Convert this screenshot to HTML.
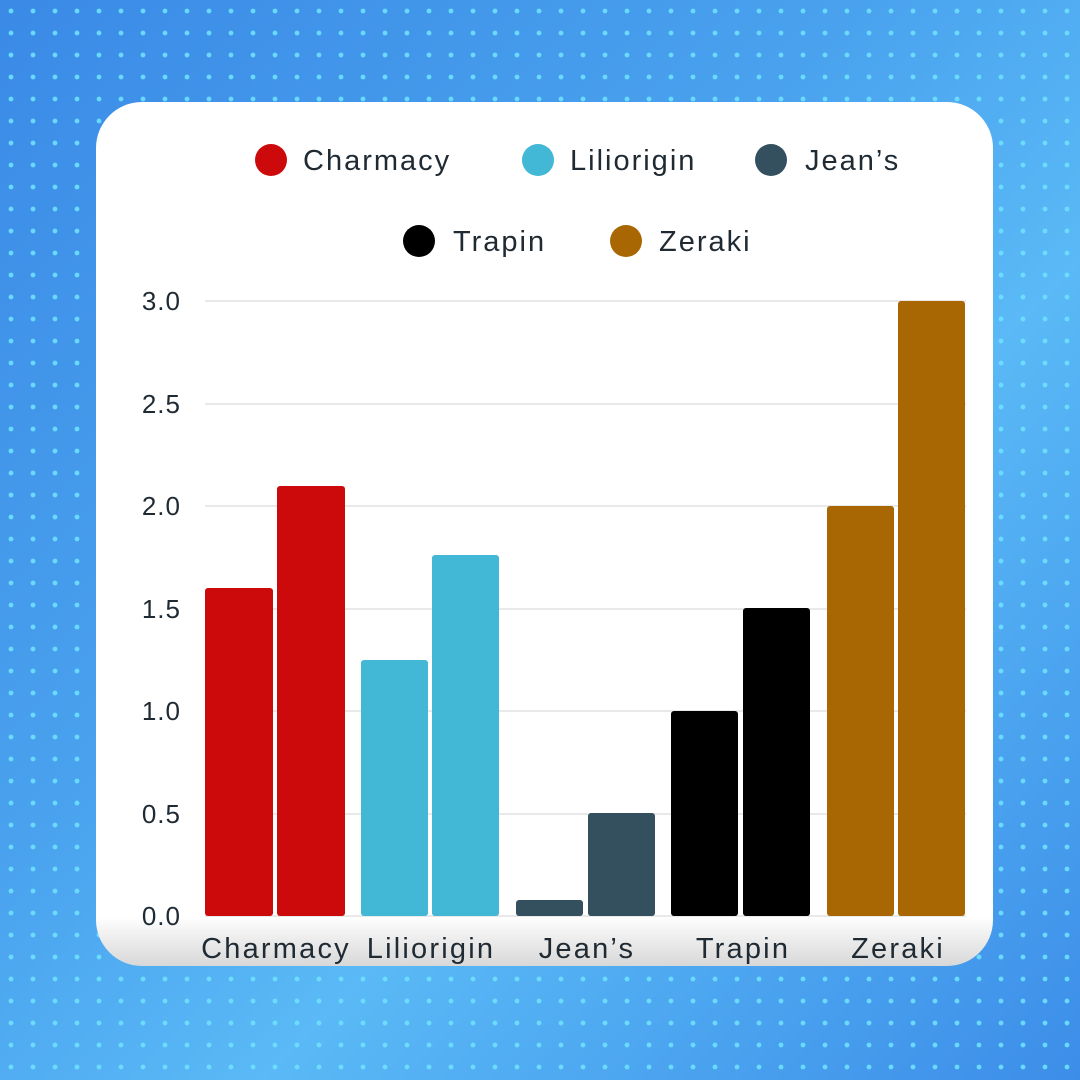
<!DOCTYPE html>
<html><head><style>
html,body{margin:0;padding:0}
body{width:1080px;height:1080px;position:relative;overflow:hidden;
background:
radial-gradient(circle, rgba(110,225,255,0.9) 2px, transparent 2.8px) 0 0/22px 22px,
linear-gradient(135deg,#3a8ae6 0%,#4aa2ee 40%,#5ab9f6 62%,#3c8de8 100%);
font-family:"Liberation Sans",sans-serif;}
.card{position:absolute;left:96px;top:102px;width:897px;height:864px;border-radius:46px;
background:linear-gradient(to bottom,#fff 0,#fff 815px,#f2f2f2 830px,#d8d8d8 864px);overflow:hidden}
svg{position:absolute;left:0;top:0}
</style></head><body>
<div class="card"></div>
<svg width="1080" height="1080" font-family="Liberation Sans, sans-serif">
<g fill="#1f2a33" font-size="29" letter-spacing="2">
<circle cx="271" cy="160" r="16" fill="#cc0a0c"/><text x="303" y="170">Charmacy</text>
<circle cx="538" cy="160" r="16" fill="#42b7d6"/><text x="570" y="170">Liliorigin</text>
<circle cx="771" cy="160" r="16" fill="#34505f"/><text x="805" y="170">Jean’s</text>
<circle cx="419" cy="241" r="16" fill="#000"/><text x="453" y="251">Trapin</text>
<circle cx="626" cy="241" r="16" fill="#a86703"/><text x="659" y="251">Zeraki</text>
</g>
<g stroke="#e2e2e2" stroke-width="1.5">
<line x1="205" x2="966" y1="301" y2="301"/><line x1="205" x2="966" y1="404" y2="404"/>
<line x1="205" x2="966" y1="506" y2="506"/><line x1="205" x2="966" y1="609" y2="609"/>
<line x1="205" x2="966" y1="711" y2="711"/><line x1="205" x2="966" y1="814" y2="814"/>
<line x1="205" x2="966" y1="916" y2="916"/>
</g>
<g font-size="26" fill="#1f2a33" text-anchor="end" letter-spacing="1">
<text x="181" y="310">3.0</text><text x="181" y="413">2.5</text><text x="181" y="515">2.0</text>
<text x="181" y="618">1.5</text><text x="181" y="720">1.0</text><text x="181" y="823">0.5</text>
<text x="181" y="925">0.0</text>
</g>
<g>
<rect x="205" y="588" width="68" height="328" rx="3" fill="#cc0a0c"/>
<rect x="277" y="486" width="68" height="430" rx="3" fill="#cc0a0c"/>
<rect x="361" y="660" width="67" height="256" rx="3" fill="#42b7d6"/>
<rect x="432" y="555" width="67" height="361" rx="3" fill="#42b7d6"/>
<rect x="516" y="900" width="67" height="16" rx="3" fill="#34505f"/>
<rect x="588" y="813" width="67" height="103" rx="3" fill="#34505f"/>
<rect x="671" y="711" width="67" height="205" rx="3" fill="#000"/>
<rect x="743" y="608" width="67" height="308" rx="3" fill="#000"/>
<rect x="827" y="506" width="67" height="410" rx="3" fill="#a86703"/>
<rect x="898" y="301" width="67" height="615" rx="3" fill="#a86703"/>
</g>
<g font-size="29" fill="#1f2a33" text-anchor="middle" letter-spacing="2.2">
<text x="276" y="958">Charmacy</text><text x="431" y="958">Liliorigin</text>
<text x="587" y="958">Jean’s</text><text x="743" y="958">Trapin</text><text x="898" y="958">Zeraki</text>
</g>
</svg>
</body></html>
